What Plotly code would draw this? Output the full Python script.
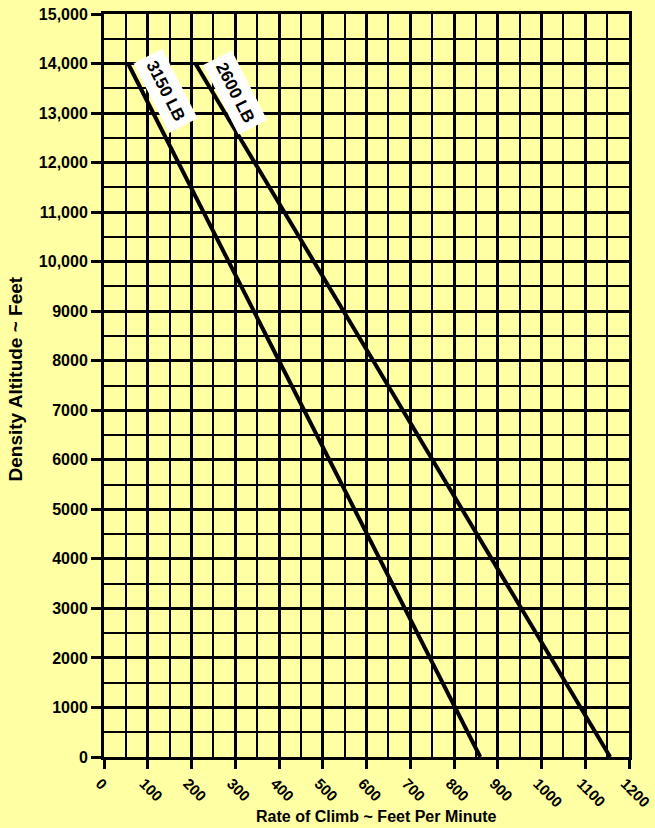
import plotly.graph_objects as go

# Data
altitude = [0, 14000]
roc_3150 = [860, 55]
roc_2600 = [1157, 209]
x_ticks = [0, 100, 200, 300, 400, 500, 600, 700, 800, 900, 1000, 1100, 1200]
y_ticks = [0, 1000, 2000, 3000, 4000, 5000, 6000, 7000, 8000, 9000,
           10000, 11000, 12000, 13000, 14000, 15000]
y_tick_text = ["0", "1000", "2000", "3000", "4000", "5000", "6000", "7000",
               "8000", "9000", "10,000", "11,000", "12,000", "13,000", "14,000", "15,000"]
labels = ["3150 LB", "2600 LB"]
label_x = [140, 300]
label_y = [13450, 13420]

BG = "#FFFFA3"
FONT = "Liberation Sans, Arial, sans-serif"

fig = go.Figure()
for xs in (roc_3150, roc_2600):
    fig.add_trace(go.Scatter(x=xs, y=altitude, mode="lines",
                             line=dict(color="black", width=4), showlegend=False,
                             hoverinfo="skip"))

for t, lx, ly in zip(labels, label_x, label_y):
    fig.add_annotation(x=lx, y=ly, text=t, showarrow=False, textangle=63,
                       bgcolor="white", borderpad=6,
                       font=dict(family=FONT, size=17, color="black", weight="bold"))

fig.add_annotation(xref="paper", yref="paper", x=0.5, y=0, yshift=-59, xshift=10,
                   xanchor="center", yanchor="middle", showarrow=False,
                   text="Rate of Climb ~ Feet Per Minute",
                   font=dict(family=FONT, size=16, color="black", weight="bold"))
fig.add_annotation(xref="paper", yref="paper", x=0, xshift=-89, y=0.5, yshift=6,
                   xanchor="center", yanchor="middle", showarrow=False, textangle=-90,
                   text="Density Altitude ~ Feet",
                   font=dict(family=FONT, size=19, color="black", weight="bold"))

fig.update_xaxes(range=[0, 1200], tickvals=x_ticks, tickangle=45,
                 automargin=False, ticklabeloverflow="allow", ticklabelshift=-4,
                 showgrid=True, gridcolor="black", gridwidth=3,
                 minor=dict(dtick=50, showgrid=True, gridcolor="black", gridwidth=1.5, ticks=""),
                 showline=True, linecolor="black", linewidth=3, mirror=True,
                 ticks="outside", ticklen=9, tickwidth=3, tickcolor="black",
                 zeroline=False,
                 tickfont=dict(family=FONT, size=15, color="black", weight="bold"))
fig.update_yaxes(range=[0, 15000], tickvals=y_ticks, ticktext=y_tick_text,
                 automargin=False, ticklabeloverflow="allow",
                 showgrid=True, gridcolor="black", gridwidth=3,
                 minor=dict(dtick=500, showgrid=True, gridcolor="black", gridwidth=1.5, ticks=""),
                 showline=True, linecolor="black", linewidth=3, mirror=True,
                 ticks="outside", ticklen=10, tickwidth=3, tickcolor="black",
                 zeroline=False,
                 tickfont=dict(family=FONT, size=16, color="black", weight="bold"))

fig.update_layout(width=655, height=828, paper_bgcolor=BG, plot_bgcolor=BG,
                  margin=dict(l=104, r=26, t=14, b=71), showlegend=False)

fig.write_html("out.html", config={"displayModeBar": False},
               post_script="document.body.style.margin='0';document.body.style.background='#FFFFA3';")
